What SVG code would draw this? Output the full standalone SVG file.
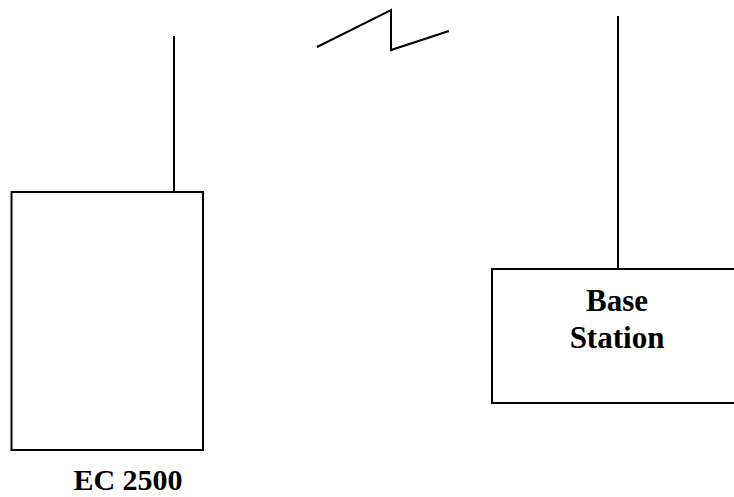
<svg xmlns="http://www.w3.org/2000/svg" width="734" height="497" viewBox="0 0 734 497">
  <style>
    .box { fill: #ffffff; stroke: #000000; stroke-width: 2; }
    .wire { fill: none; stroke: #000000; stroke-width: 2; }
    .label { font-family: "Liberation Serif", "Times New Roman", serif; font-weight: bold; font-size: 31px; fill: #000000; text-anchor: middle; }
    .label.small { font-size: 30px; }
  </style>
  <rect width="734" height="497" fill="#ffffff"/>
  <g id="connectors">
    <!-- antennas -->
    <line class="wire" x1="174" y1="36" x2="174" y2="192"/>
    <line class="wire" x1="618" y1="16" x2="618" y2="269"/>
    <!-- radio link symbol -->
    <polyline class="wire" points="317,47 391,10 391,50 449,31"/>
  </g>
  <g id="ec2500">
    <rect class="box" x="11.5" y="192" width="191.5" height="258"/>
    <text class="label small" x="128" y="490">EC 2500</text>
  </g>
  <g id="base-station">
    <rect class="box" x="492" y="269" width="250" height="134"/>
    <text class="label" x="617" y="311">Base</text>
    <text class="label" x="617" y="348">Station</text>
  </g>
</svg>
